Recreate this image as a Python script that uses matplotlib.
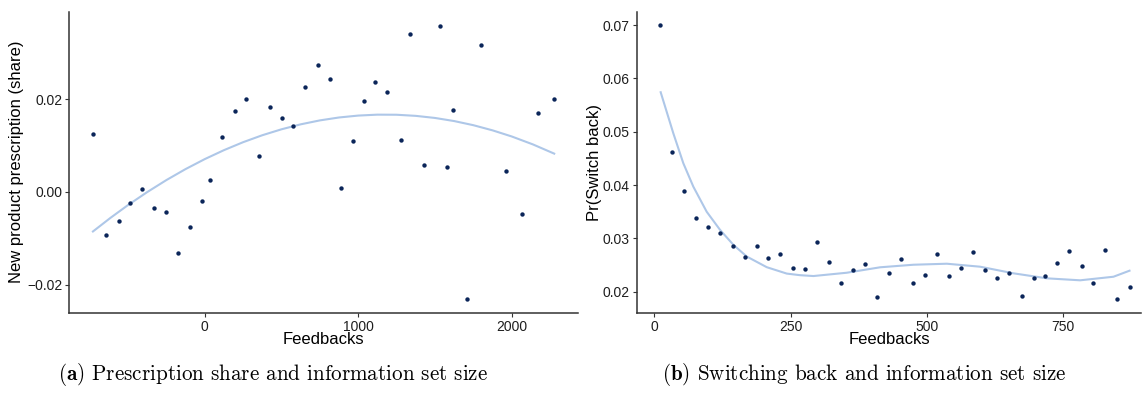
import numpy as np
import matplotlib
matplotlib.use("Agg")
import matplotlib.pyplot as plt

# ---------------- data ----------------
# Panel (a): binned scatter of new product prescription share vs feedbacks
a_feedbacks = [-728, -643, -561, -489, -410, -328, -251, -171, -96, -17, 34, 116,
               195, 272, 352, 427, 504, 578, 655, 735, 817, 889, 964, 1041, 1111,
               1186, 1282, 1340, 1431, 1530, 1578, 1619, 1708, 1798, 1964, 2065,
               2171, 2277]
a_share = [0.01245, -0.0092, -0.00626, -0.00245, 0.00072, -0.00338, -0.00432,
           -0.01317, -0.00755, -0.00194, 0.00259, 0.01187, 0.01755, 0.0200,
           0.0077, 0.01827, 0.01597, 0.01417, 0.02259, 0.02727, 0.02446, 0.00094,
           0.01094, 0.01971, 0.0236, 0.02151, 0.01122, 0.0341, 0.0059, 0.03583,
           0.00532, 0.01763, -0.0231, 0.03158, 0.0046, -0.00468, 0.01698, 0.0200]
# Panel (a): fitted curve
a_fit_x = [-728, -614, -500, -375, -250, -125, 0, 125, 250, 375, 500, 625, 750,
           875, 1000, 1125, 1250, 1375, 1500, 1625, 1750, 1875, 2000, 2138, 2277]
a_fit_y = [-0.00851, -0.00558, -0.00283, -0.00003, 0.00256, 0.00493, 0.00708,
           0.00901, 0.01073, 0.01223, 0.01351, 0.01458, 0.01543, 0.01606, 0.01647,
           0.01667, 0.01665, 0.01641, 0.01596, 0.01529, 0.0144, 0.01329, 0.01197,
           0.01026, 0.00827]

# Panel (b): binned scatter of probability of switching back vs feedbacks
b_feedbacks = [10, 33, 55, 77, 99, 121, 144, 166, 188, 209, 231, 254, 276, 298,
               320, 342, 364, 386, 409, 430, 452, 474, 496, 519, 540, 562, 584,
               607, 629, 651, 674, 696, 717, 739, 761, 784, 805, 827, 849, 872]
b_switch = [0.0700, 0.04616, 0.03895, 0.03386, 0.03217, 0.0311, 0.02866, 0.02652,
            0.0286, 0.02634, 0.02715, 0.02439, 0.0242, 0.02935, 0.02565, 0.02169,
            0.02408, 0.02521, 0.01906, 0.02358, 0.02615, 0.02163, 0.0232, 0.02715,
            0.02301, 0.02445, 0.0274, 0.02414, 0.02257, 0.02358, 0.01918, 0.02257,
            0.02295, 0.0254, 0.02772, 0.02483, 0.02169, 0.02784, 0.01856, 0.02088]
# Panel (b): fitted curve
b_fit_x = [11.7, 34.9, 53.2, 71.6, 96.1, 120.6, 145, 169.6, 206.3, 243, 267.4,
           291.9, 353.1, 414.3, 475.5, 536.7, 597.8, 659, 720.3, 781.4, 842.5, 871.9]
b_fit_y = [0.0574, 0.0497, 0.0441, 0.0397, 0.0350, 0.0316, 0.0288, 0.0266, 0.0246,
           0.0234, 0.0231, 0.02294, 0.02356, 0.02458, 0.02506, 0.02525, 0.02469,
           0.02345, 0.02251, 0.02214, 0.02281, 0.02394]

a_xticks = [0, 1000, 2000]
a_yticks = [-0.02, 0.00, 0.02]
a_yticklabels = ["\u22120.02", "0.00", "0.02"]
b_xticks = [0, 250, 500, 750]
b_yticks = [0.02, 0.03, 0.04, 0.05, 0.06, 0.07]

xlabel = "Feedbacks"
a_ylabel = "New product prescription (share)"
b_ylabel = "Pr(Switch back)"
a_caption = r"$\mathbf{(a)}$ Prescription share and information set size"
b_caption = r"$\mathbf{(b)}$ Switching back and information set size"

# ---------------- style ----------------
plt.rcParams['font.family'] = ['Liberation Sans', 'DejaVu Sans']
plt.rcParams['mathtext.fontset'] = 'cm'

W, H = 1143, 396
fig = plt.figure(figsize=(W / 100, H / 100), dpi=100)

def px_axes(x0, x1, y0, y1):
    return fig.add_axes([x0 / W, 1 - y1 / H, (x1 - x0) / W, (y1 - y0) / H])

point_color = "#0b2559"
line_color = "#aec7e8"
axis_color = "#333333"

def style(ax):
    for s in ("top", "right"):
        ax.spines[s].set_visible(False)
    for s in ("left", "bottom"):
        ax.spines[s].set_color(axis_color)
        ax.spines[s].set_linewidth(1.1)
    ax.tick_params(axis="both", length=3, width=0.8, color=axis_color,
                   labelsize=10, labelcolor="#1e1e1e", pad=2)

ax1 = px_axes(69.3, 578, 12.3, 313)
ax1.plot(a_fit_x, a_fit_y, color=line_color, lw=1.5, zorder=2)
ax1.scatter(a_feedbacks, a_share, s=10, color=point_color, zorder=3, linewidths=0)
ax1.set_xlim(-882, 2432)
ax1.set_ylim(-0.02608, 0.03873)
ax1.set_xticks(a_xticks)
ax1.set_yticks(a_yticks)
ax1.set_yticklabels(a_yticklabels)
style(ax1)

ax2 = px_axes(636.7, 1141, 12.3, 313)
ax2.plot(b_fit_x, b_fit_y, color=line_color, lw=1.5, zorder=2)
ax2.scatter(b_feedbacks, b_switch, s=10, color=point_color, zorder=3, linewidths=0)
ax2.set_xlim(-32.3, 893)
ax2.set_ylim(0.01601, 0.07239)
ax2.set_xticks(b_xticks)
ax2.set_yticks(b_yticks)
ax2.set_yticklabels([f"{v:.2f}" for v in b_yticks])
style(ax2)

# axis titles
fig.text(323.7 / W, 1 - 340 / H, xlabel, ha="center", va="center", fontsize=12)
fig.text(889 / W, 1 - 340 / H, xlabel, ha="center", va="center", fontsize=12)
fig.text(16.7 / W, 1 - 162 / H, a_ylabel, ha="center", va="center",
         rotation=90, fontsize=12)
fig.text(595 / W, 1 - 162 / H, b_ylabel, ha="center", va="center",
         rotation=90, fontsize=12)

# subfigure captions
fig.text(273 / W, 1 - 374 / H, a_caption, ha="center", va="center",
         fontsize=15.2, family="cmr10")
fig.text(864.5 / W, 1 - 374 / H, b_caption, ha="center", va="center",
         fontsize=15.2, family="cmr10")

fig.savefig("out.png", dpi=100)
